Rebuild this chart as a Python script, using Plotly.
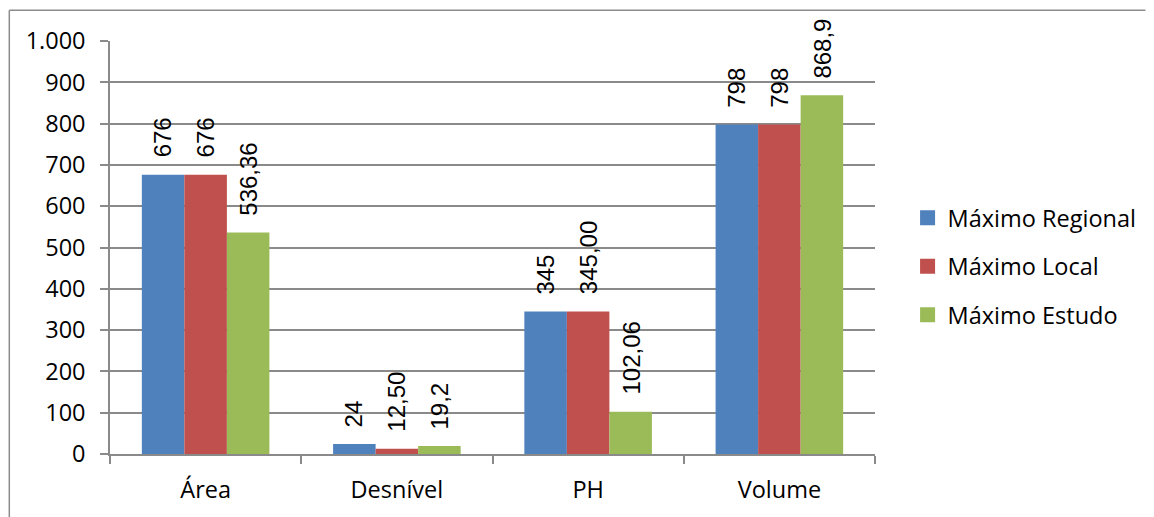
import plotly.graph_objects as go

categories = ["Área", "Desnível", "PH", "Volume"]
series_names = ["Máximo Regional", "Máximo Local", "Máximo Estudo"]
regional = [676, 24, 345, 798]
local = [676, 12.5, 345, 798]
estudo = [536.36, 19.2, 102.06, 868.9]
regional_labels = ["676", "24", "345", "798"]
local_labels = ["676", "12,50", "345,00", "798"]
estudo_labels = ["536,36", "19,2", "102,06", "868,9"]
colors = ["#4F81BD", "#C0504D", "#9BBB59"]
y_ticks = [0, 100, 200, 300, 400, 500, 600, 700, 800, 900, 1000]

W, H = 1154, 517
ML, MR, MT, MB = 110, 269, 41, 60
plot_w = W - ML - MR
plot_h = H - MT - MB
bargap = 0.333
bar_px = plot_w / len(categories) * (1 - bargap) / 3

values = [regional, local, estudo]
labels = [regional_labels, local_labels, estudo_labels]

fig = go.Figure()
for i, (name, vals, col) in enumerate(zip(series_names, values, colors)):
    fig.add_trace(go.Bar(x=categories, y=vals, name=name, marker_color=col,
                         marker_line_width=0, showlegend=False))
# legend entries with larger square swatches
for name, col in zip(series_names, colors):
    fig.add_trace(go.Scatter(x=[None], y=[None], mode="markers", name=name,
                             marker=dict(symbol="square", size=15, color=col),
                             legendgroup=name, showlegend=True))

annotations = []
for i, (vals, labs) in enumerate(zip(values, labels)):
    for c, v, t in zip(categories, vals, labs):
        annotations.append(dict(
            x=c, y=v, xref="x", yref="y", text=t, showarrow=False,
            textangle=-90, yanchor="bottom", xanchor="center",
            xshift=(i - 1) * bar_px, yshift=15,
            font=dict(family="Liberation Sans", size=24, color="#000000")))

grid = "#8a8a8a"
# outer chart frame (top and left edges visible)
frame_left, frame_top = 8, 10
fx0 = (frame_left - ML) / plot_w
fy_top = (H - MB - frame_top) / plot_h
fy_bot = (H - MB - H - 5) / plot_h
shapes = [
    dict(type="line", xref="paper", yref="paper", x0=fx0, x1=(W + 5 - ML) / plot_w,
         y0=fy_top, y1=fy_top, line=dict(color="#8c8c8c", width=1.5)),
    dict(type="line", xref="paper", yref="paper", x0=fx0, x1=fx0,
         y0=fy_top, y1=fy_bot, line=dict(color="#8c8c8c", width=1.5)),
]

FS = 23.5
fig.update_layout(
    width=W, height=H,
    margin=dict(l=ML, r=MR, t=MT, b=MB, pad=0),
    paper_bgcolor="white", plot_bgcolor="white",
    barmode="group", bargap=bargap, bargroupgap=0,
    separators=",.",
    font=dict(family="Open Sans", size=FS, color="#000000"),
    annotations=annotations, shapes=shapes,
    legend=dict(x=(918 - ML) / plot_w, xanchor="left", y=(H - MB - 268) / plot_h,
                yanchor="middle", font=dict(family="Open Sans", size=FS),
                tracegroupgap=15, bgcolor="rgba(0,0,0,0)", itemsizing="trace"),
    showlegend=True,
)
fig.update_yaxes(range=[0, 1000], tickvals=y_ticks, tickformat=",d",
                 showgrid=True, gridcolor=grid, gridwidth=1.5,
                 showline=True, linecolor=grid, linewidth=1.5,
                 ticks="outside", ticklen=8, tickcolor=grid, tickwidth=1.5,
                 ticklabelstandoff=10, zeroline=False,
                 tickfont=dict(family="Open Sans", size=FS))
fig.update_xaxes(showline=True, linecolor=grid, linewidth=1.5,
                 ticks="outside", tickson="boundaries", ticklen=8,
                 tickcolor=grid, tickwidth=1.5, showgrid=False,
                 ticklabelstandoff=14,
                 tickfont=dict(family="Open Sans", size=FS))

fig.write_html("out.html", config={"displayModeBar": False},
               post_script="document.body.style.margin='0';document.body.style.padding='0';")
